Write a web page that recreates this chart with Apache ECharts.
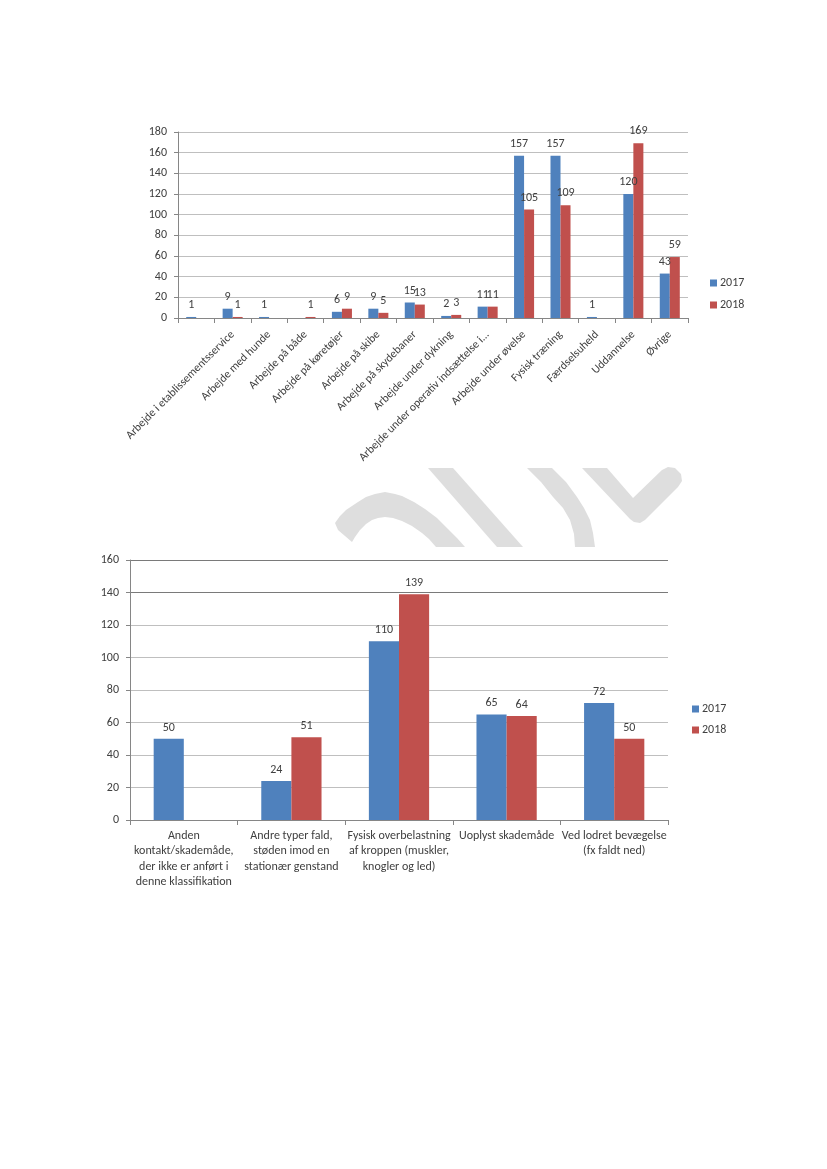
<!DOCTYPE html>
<html>
<head>
<meta charset="utf-8">
<script src="https://cdn.jsdelivr.net/npm/echarts@6/dist/echarts.min.js"></script>
<style>
html,body{margin:0;padding:0;background:#fff;}
#c{width:827px;height:1169px;}
</style>
</head>
<body>
<div id="c"></div>
<script>
// ---- Chart 1 data ----
const cats1 = ['', 'Arbejde i etablissementsservice', 'Arbejde med hunde', 'Arbejde på både',
  'Arbejde på køretøjer', 'Arbejde på skibe', 'Arbejde på skydebaner', 'Arbejde under dykning',
  'Arbejde under operativ indsættelse i...', 'Arbejde under øvelse', 'Fysisk træning',
  'Færdselsuheld', 'Uddannelse', 'Øvrige'];
const v1_2017 = [1, 9, 1, null, 6, 9, 15, 2, 11, 157, 157, 1, 120, 43];
const v1_2018 = [null, 1, null, 1, 9, 5, 13, 3, 11, 105, 109, null, 169, 59];
const ticks1 = [0, 20, 40, 60, 80, 100, 120, 140, 160, 180];

// ---- Chart 2 data ----
const cats2 = ['Anden\nkontakt/skademåde,\nder ikke er anført i\ndenne klassifikation',
  'Andre typer fald,\nstøden imod en\nstationær genstand',
  'Fysisk overbelastning\naf kroppen (muskler,\nknogler og led)',
  'Uoplyst skademåde',
  'Ved lodret bevægelse\n(fx faldt ned)'];
const v2_2017 = [50, 24, 110, 65, 72];
const v2_2018 = [null, 51, 139, 64, 50];
const ticks2 = [0, 20, 40, 60, 80, 100, 120, 140, 160];

const seriesNames = ['2017', '2018'];
const BLUE = '#4F81BD', RED = '#C0504D';
const FONT = "Carlito, 'Liberation Sans', Arial, sans-serif";
const AXC = '#868686';
const TXT = '#404040';

const chart = echarts.init(document.getElementById('c'), null, {renderer: 'canvas'});

const wm = '#dedede';
const watermark = [
  {type: 'polygon', z: -10, shape: {smooth: 0, points: [
    [335,523],[340,516],[346,510],[352,506],[358,502],[366,497],[375,494],[385,492],[395,494],[402,496],[414,502],[425,509],[437,518],[448,529],[457,538],[465,547],
    [436,547],[429,539],[422,533],[412,526],[402,521],[393,518],[385,517],[378,518],[372,520],[366,524],[360,530],[355,537],[352,542],[338,530]]}, style: {fill: wm}},
  {type: 'polygon', z: -10, shape: {points: [[428,468],[453,468],[523,547],[497,547]]}, style: {fill: wm}},
  {type: 'polygon', z: -10, shape: {points: [[527,468],[552,468],[566,482],[577,497],[584,508],[590,520],[593,533],[595,547],[575,547],[574,534],[570,520],[563,508],[553,497],[541,482]]}, style: {fill: wm}},
  {type: 'polygon', z: -10, shape: {points: [[582,468],[607,468],[633,498],[662,470],[668,467],[675,468],[681,474],[682,481],[678,487],[645,520],[640,523],[634,522],[630,519]]}, style: {fill: wm}}
];

function barLabel(d) {
  return {show: true, position: 'top', distance: d, color: TXT, fontFamily: FONT, fontSize: 12};
}
const legendText = {fontFamily: FONT, fontSize: 12, color: TXT, lineHeight: 14, padding: [0,0,0,-2]};

const option = {
  animation: false,
  backgroundColor: '#fff',
  textStyle: {fontFamily: FONT},
  graphic: watermark,
  legend: [
    {data: seriesNames, orient: 'vertical', left: 705, top: 271, itemWidth: 7, itemHeight: 7,
     itemGap: 8, icon: 'rect', textStyle: legendText},
    {data: seriesNames, orient: 'vertical', left: 687, top: 697, itemWidth: 7, itemHeight: 7,
     itemGap: 7, icon: 'rect', textStyle: legendText}
  ],
  grid: [
    {left: 178, top: 132, width: 510, height: 186, containLabel: false},
    {left: 130, top: 560, width: 538, height: 260, containLabel: false}
  ],
  xAxis: [
    {type: 'category', gridIndex: 0, data: cats1,
     axisLine: {lineStyle: {color: AXC}}, axisTick: {show: true, length: 5, lineStyle: {color: AXC}},
     axisLabel: {interval: 0, rotate: 45, margin: 15, color: TXT, fontFamily: FONT, fontSize: 11.5}},
    {type: 'category', gridIndex: 1, data: cats2,
     axisLine: {lineStyle: {color: AXC}}, axisTick: {show: true, length: 5, lineStyle: {color: AXC}},
     axisLabel: {interval: 0, margin: 8, color: TXT, fontFamily: FONT, fontSize: 12, lineHeight: 15.5}}
  ],
  yAxis: [
    {type: 'value', gridIndex: 0, min: ticks1[0], max: ticks1[ticks1.length-1], interval: 20,
     axisLine: {show: true, lineStyle: {color: AXC}}, axisTick: {show: true, length: 4, lineStyle: {color: AXC}},
     splitLine: {lineStyle: {color: '#bfbfbf'}},
     axisLabel: {margin: 11, color: TXT, fontFamily: FONT, fontSize: 12}},
    {type: 'value', gridIndex: 1, min: ticks2[0], max: ticks2[ticks2.length-1], interval: 20,
     axisLine: {show: true, lineStyle: {color: AXC}}, axisTick: {show: true, length: 4, lineStyle: {color: AXC}},
     splitLine: {lineStyle: {color: ['#bfbfbf','#bfbfbf','#bfbfbf','#bfbfbf','#bfbfbf','#bfbfbf','#bfbfbf','#7a7a7a','#7a7a7a']}},
     axisLabel: {margin: 11, color: TXT, fontFamily: FONT, fontSize: 12}}
  ],
  series: [
    {name: seriesNames[0], type: 'bar', xAxisIndex: 0, yAxisIndex: 0, data: v1_2017, itemStyle: {color: BLUE},
     barGap: '0%', barCategoryGap: '45%', label: barLabel(6)},
    {name: seriesNames[1], type: 'bar', xAxisIndex: 0, yAxisIndex: 0, data: v1_2018, itemStyle: {color: RED},
     barGap: '0%', barCategoryGap: '45%', label: barLabel(6)},
    {name: seriesNames[0], type: 'bar', xAxisIndex: 1, yAxisIndex: 1, data: v2_2017, itemStyle: {color: BLUE},
     barGap: '0%', barCategoryGap: '44%', label: barLabel(5)},
    {name: seriesNames[1], type: 'bar', xAxisIndex: 1, yAxisIndex: 1, data: v2_2018, itemStyle: {color: RED},
     barGap: '0%', barCategoryGap: '44%', label: barLabel(5)}
  ]
};
chart.setOption(option);
</script>
</body>
</html>
